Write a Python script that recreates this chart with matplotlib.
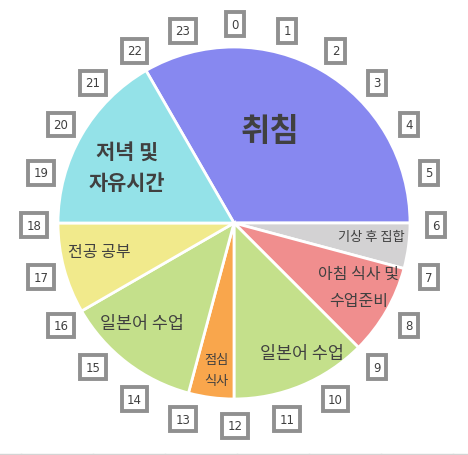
import matplotlib.pyplot as plt
import numpy as np

plt.rcParams['font.family'] = ['Noto Sans CJK KR', 'DejaVu Sans']

# schedule, clockwise from 22:00
labels = ['취침', '기상 후 집합', '아침 식사 및\n수업준비', '일본어 수업', '점심\n식사',
          '일본어 수업', '전공 공부', '저녁 및\n자유시간']
hours = [8, 1, 2, 3, 1, 3, 2, 4]
colors = ['#8788f0', '#d3d2d3', '#f08e8e', '#c4e08b', '#f9a64c', '#c4e08b', '#f1ea8c', '#94e2e8']
hour_ticks = list(range(24))

# text layout (pixel coords, y from top), sizes, weights
label_pos = [(270, 132), (371, 237), (359, 288), (302, 354), (216, 371),
             (142, 324), (99, 253), (127, 168)]
label_size = [23, 9.5, 11.5, 12.5, 9.5, 12.5, 11.5, 15]
label_weight = ['bold', 'medium', 'medium', 'medium', 'medium', 'medium', 'medium', 'bold']
label_lsp = [1, 1, 1.75, 1, 1.75, 1, 1, 1.6]

W, H = 468, 456
fig = plt.figure(figsize=(W / 100, H / 100), dpi=100)
ax = fig.add_axes([0, 0, 1, 1])

cx, cy, R = 234, H - 224, 176
start = 90 + 30  # 22:00 position
ax.pie(hours, colors=colors, startangle=start, counterclock=False,
       center=(cx, cy), radius=R, frame=True,
       wedgeprops=dict(edgecolor='white', linewidth=2))
ax.set_xlim(0, W)
ax.set_ylim(0, H)
ax.axis('off')

for txt, (x, y), s, w, lsp in zip(labels, label_pos, label_size, label_weight, label_lsp):
    ax.text(x, H - y, txt, ha='center', va='center', fontsize=s, fontweight=w,
            color='#404040', linespacing=lsp)

# hour boxes around the pie
lx, ly, lr = 235, H - 226, 201
for h in hour_ticks:
    a = np.deg2rad(90 - 15 * h)
    ax.text(lx + lr * np.cos(a), ly + lr * np.sin(a), str(h), ha='center', va='center',
            fontsize=8.5, color='#404040', family='DejaVu Sans',
            bbox=dict(boxstyle='square,pad=0.45', facecolor='white',
                      edgecolor='#909090', linewidth=2.8))

# spreadsheet grid remnants at bottom
ax.axhline(1.5, color='#d4d4d4', linewidth=1)
for gx in [20.5, 92.5, 164.5, 236.5, 308.5, 380.5, 452.5]:
    ax.plot([gx, gx], [0, 1.5], color='#d4d4d4', linewidth=1)

fig.savefig('out.png', dpi=100)
